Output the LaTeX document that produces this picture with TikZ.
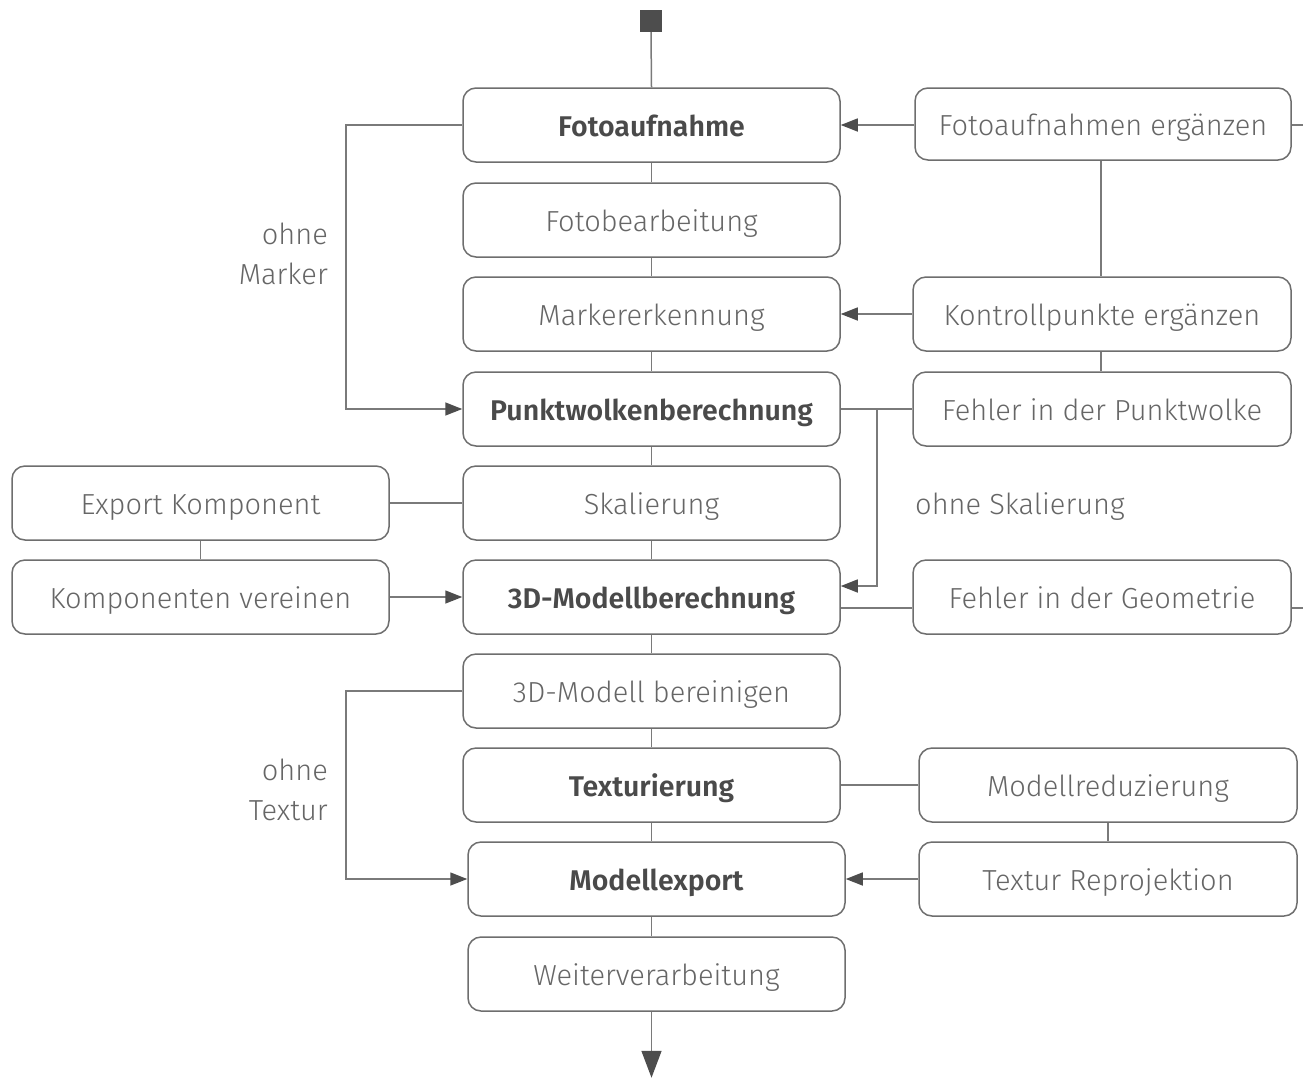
\documentclass[tikz,border=0pt]{standalone}
\usepackage{fontspec}
\setmainfont{Fira Sans Light}[BoldFont={Fira Sans SemiBold}]
\usetikzlibrary{arrows.meta}
\definecolor{boxc}{HTML}{6E6E6E}
\definecolor{linec}{HTML}{7A7A7A}
\definecolor{headc}{HTML}{4D4D4D}
\definecolor{txt}{HTML}{666666}
\definecolor{txtb}{HTML}{4A4A4A}
\tikzset{
  box/.style={draw=boxc, line width=1.5pt, rounded corners=13pt, minimum width=377pt, minimum height=74pt, inner sep=0pt, text height=24pt, text depth=2pt, text=txt, font=\fontsize{29}{34}\selectfont},
  bbox/.style={box, text=txtb, font=\fontsize{28.5}{34}\selectfont\bfseries},
  lbl/.style={text=txt, font=\fontsize{29}{40}\selectfont, inner sep=0pt},
  ln/.style={draw=linec, line width=1.5pt},
  arr/.style={ln, -{Triangle[length=17pt,width=13pt,color=headc]}},
  bigarr/.style={ln, -{Triangle[length=27pt,width=20pt,color=headc]}},
}
\begin{document}
\begin{tikzpicture}[x=1pt,y=-1pt]
\useasboundingbox (0,0) rectangle (1303,1077);
\fill[white] (0,0) rectangle (1303,1077);
% start square
\node[fill=headc, minimum size=22pt, inner sep=0pt] (start) at (651,21) {};
% main column
\node[bbox] (n1) at (651.5,125) {Fotoaufnahme};
\node[box]  (n2) at (651.5,220) {Fotobearbeitung};
\node[box]  (n3) at (651.5,314) {Markererkennung};
\node[bbox] (n4) at (651.5,409) {Punktwolkenberechnung};
\node[box]  (n5) at (651.5,503) {Skalierung};
\node[bbox] (n6) at (651.5,597) {3D-Modellberechnung};
\node[box]  (n7) at (651.5,691) {3D-Modell bereinigen};
\node[bbox] (n8) at (651.5,785) {Texturierung};
\node[bbox] (n9) at (656.5,879) {Modellexport};
\node[box]  (n10) at (656.5,974) {Weiterverarbeitung};
% right column
\node[box, minimum width=376pt, minimum height=72pt] (fa) at (1103,124) {Fotoaufnahmen ergänzen};
\node[box, minimum width=378pt] (kp) at (1102,314) {Kontrollpunkte ergänzen};
\node[box, minimum width=378pt] (fp) at (1102,409) {Fehler in der Punktwolke};
\node[box, minimum width=378pt] (fg) at (1102,597) {Fehler in der Geometrie};
\node[box, minimum width=378pt] (mr) at (1108,785) {Modellreduzierung};
\node[box, minimum width=378pt] (tr) at (1108,879) {Textur Reprojektion};
% left column
\node[box] (ek) at (200.5,503) {Export Komponent};
\node[box] (kv) at (200.5,597) {Komponenten vereinen};
% labels
\node[lbl, anchor=east, align=right] (l1) at (328,254) {ohne\\Marker};
\node[lbl, anchor=west] (l2) at (915,507) {ohne Skalierung};
\node[lbl, anchor=east, align=right] (l3) at (328,790) {ohne\\Textur};
% edge coordinates
\coordinate (e1) at (1303,125);
\coordinate (e2) at (1303,608);
% main vertical connectors
\draw[ln] (start.south) -- (n1.north);
\draw[ln] (n1.south) -- (n2.north);
\draw[ln] (n2.south) -- (n3.north);
\draw[ln] (n3.south) -- (n4.north);
\draw[ln] (n4.south) -- (n5.north);
\draw[ln] (n5.south) -- (n6.north);
\draw[ln] (n6.south) -- (n7.north);
\draw[ln] (n7.south) -- (n8.north);
\draw[ln] (n8.south) -- (n8.south |- n9.north);
\draw[ln] (n9.south -| n8.south) -- (n10.north -| n8.south);
\draw[bigarr] (n10.south -| n8.south) -- ++(0,66);
% left loops
\draw[arr] (n1.west) -- (346,125) |- (n4.west);
\draw[arr] (n7.west) -- (346,691) |- (n9.west);
% right side
\draw[arr] (fa.west |- n1.east) -- (n1.east);
\draw[ln] (fa.east |- e1) -- (e1);
\draw[ln] (fa.south -| 1101,0) -- (kp.north -| 1101,0);
\draw[arr] (kp.west) -- (n3.east);
\draw[ln] (kp.south -| 1101,0) -- (fp.north -| 1101,0);
\draw[ln] (n4.east) -- (fp.west);
\draw[arr] (877,409) |- (n6.east |- 0,586);
\draw[ln] (n6.east |- e2) -- (fg.west |- e2);
\draw[ln] (fg.east |- e2) -- (e2);
\draw[ln] (n8.east) -- (mr.west);
\draw[ln] (mr.south) -- (tr.north);
\draw[arr] (tr.west) -- (n9.east);
% left components
\draw[ln] (n5.west) -- (ek.east);
\draw[ln] (ek.south) -- (kv.north);
\draw[arr] (kv.east) -- (n6.west);
\end{tikzpicture}
\end{document}
